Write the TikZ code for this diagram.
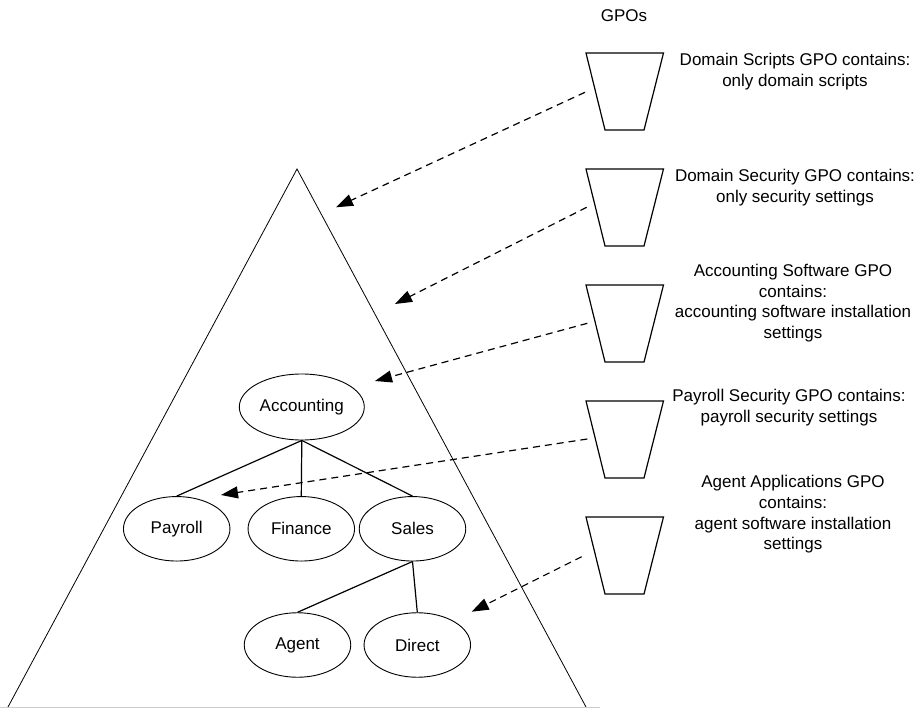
\documentclass[tikz,border=0pt]{standalone}
\usepackage{fontspec}
\setmainfont{Liberation Sans}
\usetikzlibrary{shapes.geometric,arrows.meta}
\begin{document}
\begin{tikzpicture}[x=1pt,y=-1pt,
  org/.style={draw, ellipse, line width=0.9pt, inner sep=0pt, minimum width=106.5pt, minimum height=64.5pt, font=\fontsize{17}{20}\selectfont},
  tree/.style={line width=1.2pt},
  gpoarrow/.style={line width=1.2pt, dash pattern=on 7pt off 5pt, -{Triangle[length=17pt,width=12pt]}},
  gpo/.style={line width=1.2pt, line join=miter},
  lbl/.style={align=center, font=\fontsize{17}{20.7}\selectfont, inner sep=0pt}]
\useasboundingbox (0,0) rectangle (919,709);
\fill[white] (0,0) rectangle (919,709);

% domain triangle
\draw[line width=0.8pt] (8,707) -- (297,169) -- (586,707);
\draw[black!20, line width=0.8pt] (0,707.5) -- (600,707.5);

% OU tree
\node[org, minimum width=125pt, minimum height=66pt] (acc) at (301.8,407) {Accounting};
\node[org] (pay) at (176.7,528.8) {Payroll};
\node[org] (fin) at (301.3,528.8) {Finance};
\node[org] (sal) at (412.5,528.8) {Sales};
\node[org] (agt) at (297.5,645) {Agent};
\node[org] (dir) at (417.3,645) {Direct};

\draw[tree] (acc.south) -- (pay.north);
\draw[tree] (acc.south) -- (fin.north);
\draw[tree] (acc.south) -- (sal.north);
\draw[tree] (sal.south) -- (agt.north);
\draw[tree] (sal.south) -- (dir.north);

% GPO trapezoids
\foreach \t in {53,169,285,401,517}{
  \draw[gpo] (586,\t) -- (663.5,\t) -- (644,\t+77) -- (605,\t+77) -- cycle;
}

\node[font=\fontsize{17}{20}\selectfont] (gpos) at (624,16) {GPOs};

\node[lbl] (l1) at (795,71.5) {Domain Scripts GPO contains:\\only domain scripts};
\node[lbl] (l2) at (795,187.5) {Domain Security GPO contains:\\only security settings};
\node[lbl] (l3) at (793,303) {Accounting Software GPO\\contains:\\accounting software installation\\settings};
\node[lbl] (l4) at (789,407.5) {Payroll Security GPO contains:\\payroll security settings};
\node[lbl] (l5) at (793,514.5) {Agent Applications GPO\\contains:\\agent software installation\\settings};

% arrow ends
\coordinate (s1) at (585,92.3);   \coordinate (e1) at (336,207.3);
\coordinate (s2) at (586.7,207.3); \coordinate (e2) at (395,304);
\coordinate (s3) at (587.3,323.3); \coordinate (e3) at (375,381);
\coordinate (s4) at (587.3,439);  \coordinate (e4) at (221,495);
\coordinate (s5) at (581.7,556.7); \coordinate (e5) at (471.7,611.7);

\draw[gpoarrow] (s1) -- (e1);
\draw[gpoarrow] (s2) -- (e2);
\draw[gpoarrow] (s3) -- (e3);
\draw[gpoarrow] (s4) -- (e4);
\draw[gpoarrow] (s5) -- (e5);
\end{tikzpicture}
\end{document}
